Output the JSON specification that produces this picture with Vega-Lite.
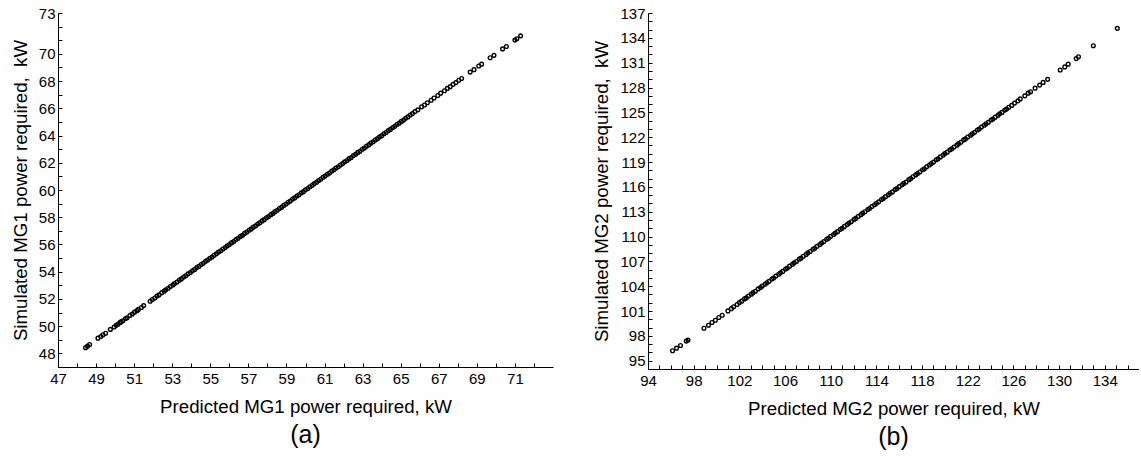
{
  "$schema": "https://vega.github.io/schema/vega-lite/v6.json",
  "padding": {"left": 11, "top": 6, "right": 0, "bottom": 0},
  "background": "white",
  "config": {
    "font": "Liberation Sans",
    "view": {"stroke": null},
    "axis": {"labelFontSize": 15, "titleFontSize": 18.7, "titleFontWeight": "normal", "labelColor": "black", "titleColor": "black", "domainColor": "black", "tickColor": "black", "grid": false, "tickSize": -4, "labelPadding": 8, "labelOverlap": false, "labelBound": false, "labelFlush": false, "domainWidth": 1, "tickWidth": 1},
    "title": {"fontSize": 25, "fontWeight": "normal", "color": "black"}
  },
  "datasets": {
    "mg1": [
      {"p": 48.45, "s": 48.42}, {"p": 48.55, "s": 48.53}, {"p": 48.66, "s": 48.65}, {"p": 49.1, "s": 49.12}, {"p": 49.25, "s": 49.24}, {"p": 49.36, "s": 49.37}, {"p": 49.5, "s": 49.48}, {"p": 49.75, "s": 49.76}, {"p": 49.95, "s": 49.94}, {"p": 50.05, "s": 50.06}, {"p": 50.15, "s": 50.14}, {"p": 50.25, "s": 50.26},
      {"p": 50.32, "s": 50.33}, {"p": 50.41, "s": 50.4}, {"p": 50.55, "s": 50.56}, {"p": 50.63, "s": 50.62}, {"p": 50.78, "s": 50.79}, {"p": 50.9, "s": 50.89}, {"p": 51.02, "s": 51.03}, {"p": 51.15, "s": 51.14}, {"p": 51.22, "s": 51.23}, {"p": 51.38, "s": 51.37}, {"p": 51.5, "s": 51.51},
      {"p": 51.84, "s": 51.83}, {"p": 51.95, "s": 51.96}, {"p": 52.08, "s": 52.07}, {"p": 52.2, "s": 52.21}, {"p": 52.31, "s": 52.3}, {"p": 52.45, "s": 52.46}, {"p": 52.58, "s": 52.57}, {"p": 52.66, "s": 52.67}, {"p": 52.79, "s": 52.78}, {"p": 52.9, "s": 52.91},
      {"p": 53.04, "s": 53.03}, {"p": 53.12, "s": 53.13}, {"p": 53.25, "s": 53.24}, {"p": 53.37, "s": 53.38}, {"p": 53.48, "s": 53.47}, {"p": 53.6, "s": 53.61}, {"p": 53.71, "s": 53.7}, {"p": 53.83, "s": 53.84}, {"p": 53.95, "s": 53.94},
      {"p": 54.06, "s": 54.07}, {"p": 54.18, "s": 54.17}, {"p": 54.29, "s": 54.3}, {"p": 54.4, "s": 54.39}, {"p": 54.52, "s": 54.53}, {"p": 54.63, "s": 54.62}, {"p": 54.75, "s": 54.76}, {"p": 54.86, "s": 54.85}, {"p": 54.98, "s": 54.99},
      {"p": 55.09, "s": 55.08}, {"p": 55.2, "s": 55.21}, {"p": 55.32, "s": 55.31}, {"p": 55.43, "s": 55.44}, {"p": 55.55, "s": 55.54}, {"p": 55.66, "s": 55.67}, {"p": 55.78, "s": 55.77}, {"p": 55.89, "s": 55.9},
      {"p": 56.0, "s": 55.99}, {"p": 56.12, "s": 56.13}, {"p": 56.23, "s": 56.22}, {"p": 56.35, "s": 56.36}, {"p": 56.46, "s": 56.45}, {"p": 56.58, "s": 56.59}, {"p": 56.69, "s": 56.68}, {"p": 56.8, "s": 56.81}, {"p": 56.92, "s": 56.91},
      {"p": 57.03, "s": 57.04}, {"p": 57.15, "s": 57.14}, {"p": 57.26, "s": 57.27}, {"p": 57.38, "s": 57.37}, {"p": 57.49, "s": 57.5}, {"p": 57.6, "s": 57.59}, {"p": 57.72, "s": 57.73}, {"p": 57.83, "s": 57.82}, {"p": 57.95, "s": 57.96},
      {"p": 58.06, "s": 58.05}, {"p": 58.18, "s": 58.19}, {"p": 58.29, "s": 58.28}, {"p": 58.4, "s": 58.41}, {"p": 58.52, "s": 58.51}, {"p": 58.63, "s": 58.64}, {"p": 58.75, "s": 58.74}, {"p": 58.86, "s": 58.87}, {"p": 58.98, "s": 58.97},
      {"p": 59.09, "s": 59.1}, {"p": 59.2, "s": 59.19}, {"p": 59.32, "s": 59.33}, {"p": 59.43, "s": 59.42}, {"p": 59.55, "s": 59.56}, {"p": 59.66, "s": 59.65}, {"p": 59.78, "s": 59.79}, {"p": 59.89, "s": 59.88},
      {"p": 60.0, "s": 60.01}, {"p": 60.12, "s": 60.11}, {"p": 60.23, "s": 60.24}, {"p": 60.35, "s": 60.34}, {"p": 60.46, "s": 60.47}, {"p": 60.58, "s": 60.57}, {"p": 60.69, "s": 60.7}, {"p": 60.8, "s": 60.79}, {"p": 60.92, "s": 60.93},
      {"p": 61.03, "s": 61.02}, {"p": 61.15, "s": 61.16}, {"p": 61.26, "s": 61.25}, {"p": 61.38, "s": 61.39}, {"p": 61.49, "s": 61.48}, {"p": 61.6, "s": 61.61}, {"p": 61.72, "s": 61.71}, {"p": 61.83, "s": 61.84}, {"p": 61.95, "s": 61.94},
      {"p": 62.06, "s": 62.07}, {"p": 62.18, "s": 62.17}, {"p": 62.29, "s": 62.3}, {"p": 62.4, "s": 62.39}, {"p": 62.52, "s": 62.53}, {"p": 62.63, "s": 62.62}, {"p": 62.75, "s": 62.76}, {"p": 62.86, "s": 62.85}, {"p": 62.98, "s": 62.99},
      {"p": 63.09, "s": 63.08}, {"p": 63.2, "s": 63.21}, {"p": 63.32, "s": 63.31}, {"p": 63.43, "s": 63.44}, {"p": 63.55, "s": 63.54}, {"p": 63.66, "s": 63.67}, {"p": 63.78, "s": 63.77}, {"p": 63.89, "s": 63.9},
      {"p": 64.0, "s": 63.99}, {"p": 64.12, "s": 64.13}, {"p": 64.23, "s": 64.22}, {"p": 64.35, "s": 64.36}, {"p": 64.46, "s": 64.45}, {"p": 64.58, "s": 64.59}, {"p": 64.69, "s": 64.68}, {"p": 64.8, "s": 64.81}, {"p": 64.92, "s": 64.91},
      {"p": 65.03, "s": 65.04}, {"p": 65.15, "s": 65.14}, {"p": 65.26, "s": 65.27}, {"p": 65.38, "s": 65.37}, {"p": 65.5, "s": 65.51}, {"p": 65.62, "s": 65.61}, {"p": 65.75, "s": 65.76}, {"p": 65.9, "s": 65.89},
      {"p": 66.1, "s": 66.11}, {"p": 66.25, "s": 66.24}, {"p": 66.4, "s": 66.41}, {"p": 66.6, "s": 66.59}, {"p": 66.75, "s": 66.76}, {"p": 66.95, "s": 66.94}, {"p": 67.1, "s": 67.11}, {"p": 67.3, "s": 67.29}, {"p": 67.45, "s": 67.46}, {"p": 67.6, "s": 67.59}, {"p": 67.75, "s": 67.76}, {"p": 67.9, "s": 67.89},
      {"p": 68.05, "s": 68.06}, {"p": 68.2, "s": 68.19}, {"p": 68.65, "s": 68.66}, {"p": 68.85, "s": 68.84}, {"p": 69.1, "s": 69.11}, {"p": 69.25, "s": 69.24}, {"p": 69.7, "s": 69.71}, {"p": 69.9, "s": 69.89}, {"p": 70.35, "s": 70.36}, {"p": 70.55, "s": 70.54}, {"p": 71.0, "s": 71.01}, {"p": 71.1, "s": 71.11}, {"p": 71.3, "s": 71.32}
    ],
    "mg2": [
      {"p": 96.15, "s": 96.2}, {"p": 96.5, "s": 96.52}, {"p": 96.85, "s": 96.84}, {"p": 97.35, "s": 97.37}, {"p": 97.5, "s": 97.49}, {"p": 98.9, "s": 98.92}, {"p": 99.3, "s": 99.29}, {"p": 99.6, "s": 99.62}, {"p": 99.9, "s": 99.89}, {"p": 100.2, "s": 100.22}, {"p": 100.5, "s": 100.49}, {"p": 101.0, "s": 101.02}, {"p": 101.3, "s": 101.29}, {"p": 101.5, "s": 101.52},
      {"p": 101.8, "s": 101.79}, {"p": 102.0, "s": 102.02}, {"p": 102.2, "s": 102.19}, {"p": 102.45, "s": 102.47}, {"p": 102.6, "s": 102.59}, {"p": 102.8, "s": 102.82}, {"p": 103.05, "s": 103.04}, {"p": 103.2, "s": 103.22}, {"p": 103.4, "s": 103.39}, {"p": 103.65, "s": 103.67}, {"p": 103.85, "s": 103.84},
      {"p": 104.0, "s": 104.02}, {"p": 104.25, "s": 104.24}, {"p": 104.4, "s": 104.42}, {"p": 104.6, "s": 104.59}, {"p": 104.85, "s": 104.87}, {"p": 105.0, "s": 104.99}, {"p": 105.2, "s": 105.22}, {"p": 105.45, "s": 105.44}, {"p": 105.6, "s": 105.62}, {"p": 105.8, "s": 105.79},
      {"p": 106.05, "s": 106.07}, {"p": 106.2, "s": 106.19}, {"p": 106.4, "s": 106.42}, {"p": 106.65, "s": 106.64}, {"p": 106.8, "s": 106.82}, {"p": 107.0, "s": 106.99}, {"p": 107.25, "s": 107.27}, {"p": 107.4, "s": 107.39}, {"p": 107.6, "s": 107.62}, {"p": 107.85, "s": 107.84},
      {"p": 108.0, "s": 108.02}, {"p": 108.2, "s": 108.19}, {"p": 108.45, "s": 108.47}, {"p": 108.6, "s": 108.59}, {"p": 108.8, "s": 108.82}, {"p": 109.05, "s": 109.04}, {"p": 109.2, "s": 109.22}, {"p": 109.4, "s": 109.39}, {"p": 109.65, "s": 109.67}, {"p": 109.8, "s": 109.79},
      {"p": 110.0, "s": 110.02}, {"p": 110.25, "s": 110.24}, {"p": 110.4, "s": 110.42}, {"p": 110.6, "s": 110.59}, {"p": 110.85, "s": 110.87}, {"p": 111.0, "s": 110.99}, {"p": 111.2, "s": 111.22}, {"p": 111.45, "s": 111.44}, {"p": 111.6, "s": 111.62}, {"p": 111.8, "s": 111.79},
      {"p": 112.05, "s": 112.07}, {"p": 112.2, "s": 112.19}, {"p": 112.4, "s": 112.42}, {"p": 112.65, "s": 112.64}, {"p": 112.8, "s": 112.82}, {"p": 113.0, "s": 112.99}, {"p": 113.25, "s": 113.27}, {"p": 113.4, "s": 113.39}, {"p": 113.6, "s": 113.62}, {"p": 113.85, "s": 113.84},
      {"p": 114.0, "s": 114.02}, {"p": 114.2, "s": 114.19}, {"p": 114.45, "s": 114.47}, {"p": 114.6, "s": 114.59}, {"p": 114.8, "s": 114.82}, {"p": 115.05, "s": 115.04}, {"p": 115.2, "s": 115.22}, {"p": 115.4, "s": 115.39}, {"p": 115.65, "s": 115.67}, {"p": 115.8, "s": 115.79},
      {"p": 116.0, "s": 116.02}, {"p": 116.25, "s": 116.24}, {"p": 116.4, "s": 116.42}, {"p": 116.6, "s": 116.59}, {"p": 116.85, "s": 116.87}, {"p": 117.0, "s": 116.99}, {"p": 117.2, "s": 117.22}, {"p": 117.45, "s": 117.44}, {"p": 117.6, "s": 117.62}, {"p": 117.8, "s": 117.79},
      {"p": 118.05, "s": 118.07}, {"p": 118.2, "s": 118.19}, {"p": 118.4, "s": 118.42}, {"p": 118.65, "s": 118.64}, {"p": 118.8, "s": 118.82}, {"p": 119.0, "s": 118.99}, {"p": 119.25, "s": 119.27}, {"p": 119.4, "s": 119.39}, {"p": 119.6, "s": 119.62}, {"p": 119.85, "s": 119.84},
      {"p": 120.0, "s": 120.02}, {"p": 120.2, "s": 120.19}, {"p": 120.45, "s": 120.47}, {"p": 120.6, "s": 120.59}, {"p": 120.8, "s": 120.82}, {"p": 121.05, "s": 121.04}, {"p": 121.2, "s": 121.22}, {"p": 121.4, "s": 121.39}, {"p": 121.65, "s": 121.67}, {"p": 121.8, "s": 121.79},
      {"p": 122.0, "s": 122.02}, {"p": 122.25, "s": 122.24}, {"p": 122.4, "s": 122.42}, {"p": 122.6, "s": 122.59}, {"p": 122.85, "s": 122.87}, {"p": 123.0, "s": 122.99}, {"p": 123.2, "s": 123.22}, {"p": 123.45, "s": 123.44}, {"p": 123.6, "s": 123.62}, {"p": 123.8, "s": 123.79},
      {"p": 124.05, "s": 124.07}, {"p": 124.2, "s": 124.19}, {"p": 124.4, "s": 124.42}, {"p": 124.65, "s": 124.64}, {"p": 124.8, "s": 124.82}, {"p": 125.0, "s": 124.99}, {"p": 125.25, "s": 125.27}, {"p": 125.4, "s": 125.39}, {"p": 125.6, "s": 125.62}, {"p": 125.85, "s": 125.84},
      {"p": 126.1, "s": 126.12}, {"p": 126.4, "s": 126.39}, {"p": 126.6, "s": 126.62}, {"p": 127.0, "s": 126.99}, {"p": 127.3, "s": 127.32}, {"p": 127.5, "s": 127.49}, {"p": 127.9, "s": 127.92}, {"p": 128.3, "s": 128.29}, {"p": 128.6, "s": 128.62}, {"p": 129.0, "s": 128.99},
      {"p": 130.1, "s": 130.12}, {"p": 130.5, "s": 130.49}, {"p": 130.8, "s": 130.82}, {"p": 131.5, "s": 131.49}, {"p": 131.7, "s": 131.72}, {"p": 133.0, "s": 133.05}, {"p": 135.1, "s": 135.15}
    ]
  },
  "hconcat": [
    {
      "width": 495,
      "height": 354,
      "data": {"name": "mg1"},
      "title": {"text": "(a)", "orient": "bottom", "offset": 7},
      "mark": {"type": "point", "shape": "circle", "filled": false, "stroke": "black", "size": 14, "strokeWidth": 1.4, "opacity": 1},
      "encoding": {
        "x": {"field": "p", "type": "quantitative", "scale": {"domain": [47, 73], "nice": false, "zero": false},
          "axis": {"title": "Predicted MG1 power required, kW", "titlePadding": 11,
            "values": [47,48,49,50,51,52,53,54,55,56,57,58,59,60,61,62,63,64,65,66,67,68,69,70,71,72],
            "labelExpr": "datum.value % 2 == 1 ? datum.label : ''"}},
        "y": {"field": "s", "type": "quantitative", "scale": {"domain": [47, 73], "nice": false, "zero": false},
          "axis": {"title": "Simulated MG1 power required,\u00a0 kW", "titlePadding": 8, "labelPadding": 7,
            "values": [47,48,49,50,51,52,53,54,55,56,57,58,59,60,61,62,63,64,65,66,67,68,69,70,71,72,73],
            "labelExpr": "((datum.value % 2 == 0) && datum.value <= 70) || datum.value == 73 ? datum.label : ''"}}
      }
    },
    {
      "width": 491,
      "height": 356,
      "data": {"name": "mg2"},
      "title": {"text": "(b)", "orient": "bottom", "offset": 7},
      "mark": {"type": "point", "shape": "circle", "filled": false, "stroke": "black", "size": 14, "strokeWidth": 1.4, "opacity": 1},
      "encoding": {
        "x": {"field": "p", "type": "quantitative", "scale": {"domain": [94, 137], "nice": false, "zero": false},
          "axis": {"title": "Predicted MG2 power required, kW", "titlePadding": 11,
            "values": [94,95,96,97,98,99,100,101,102,103,104,105,106,107,108,109,110,111,112,113,114,115,116,117,118,119,120,121,122,123,124,125,126,127,128,129,130,131,132,133,134,135,136],
            "labelExpr": "(datum.value - 94) % 4 == 0 ? datum.label : ''"}},
        "y": {"field": "s", "type": "quantitative", "scale": {"domain": [94, 137], "nice": false, "zero": false},
          "axis": {"title": "Simulated MG2 power required,\u00a0 kW", "titlePadding": 8, "labelPadding": 7,
            "values": [94,95,96,97,98,99,100,101,102,103,104,105,106,107,108,109,110,111,112,113,114,115,116,117,118,119,120,121,122,123,124,125,126,127,128,129,130,131,132,133,134,135,136,137],
            "labelExpr": "(datum.value - 95) % 3 == 0 ? datum.label : ''"}}
      }
    }
  ],
  "spacing": 39
}
